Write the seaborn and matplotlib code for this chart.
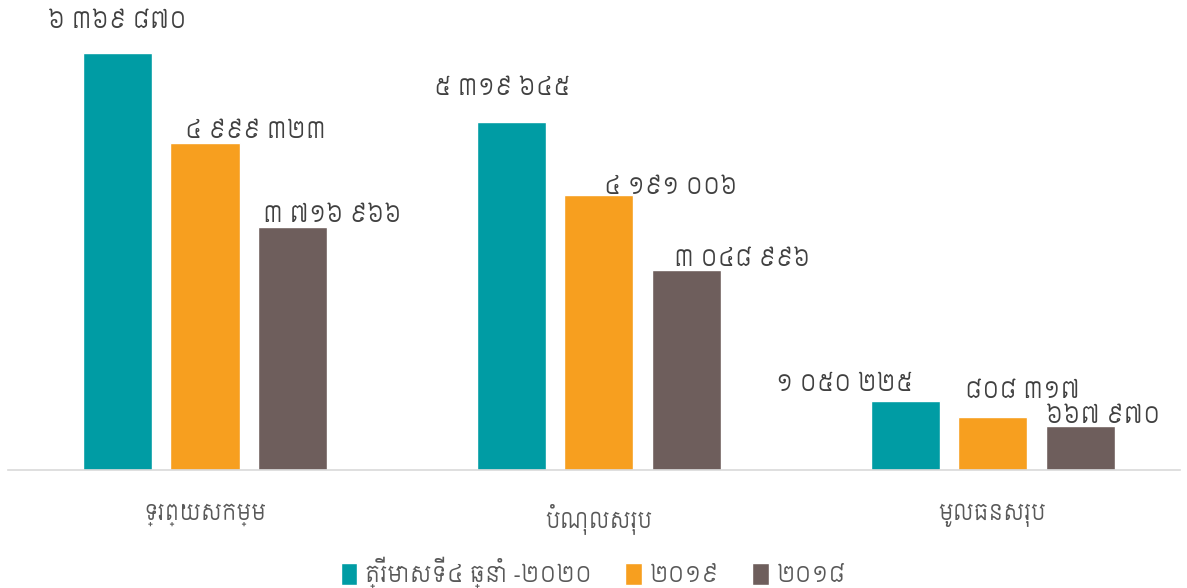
import matplotlib
matplotlib.use("Agg")
import matplotlib.pyplot as plt
import seaborn as sns
import pandas as pd

categories = ["ទ្រព្យសកម្ម", "បំណុលសរុប", "មូលធនសរុប"]
series_names = ["ត្រីមាសទី៤ ឆ្នាំ -២០២០", "២០១៩", "២០១៨"]
values_2020q4 = [6369870, 5319645, 1050225]
values_2019 = [4999323, 4191006, 808317]
values_2018 = [3716966, 3048996, 667970]

colors = ["#009CA4", "#F79F1F", "#6E5E5C"]
# label offsets (pixels) from top-centre of each bar, per series then per category
label_offsets = [
    [(0, 31), (-9, 33), (-61, 16)],
    [(51, 11), (72, 7), (30, 25)],
    [(40, 11), (56, 10), (23, 9)],
]

KH = str.maketrans("0123456789", "០១២៣៤៥៦៧៨៩")


def khmer_number(v):
    s = f"{v:,}".replace(",", " ")
    return s.translate(KH)


rows = []
for name, vals in zip(series_names, [values_2020q4, values_2019, values_2018]):
    for c, v in zip(categories, vals):
        rows.append({"cat": c, "series": name, "value": v})
df = pd.DataFrame(rows)

sns.set_theme(style="white")
plt.rcParams["font.family"] = ["Siemreap", "Noto Sans Khmer", "DejaVu Sans"]

fig = plt.figure(figsize=(11.87, 5.88), dpi=100)
ax = fig.add_axes([8 / 1187, 118 / 588, 1172 / 1187, 470 / 588])

sns.barplot(data=df, x="cat", y="value", hue="series", order=categories,
            hue_order=series_names, palette=colors, width=0.666, gap=0.21,
            saturation=1, ax=ax, legend=True)

ax.set_ylim(0, 7.175e6)
ax.set_xlim(-0.5, 2.475)
ax.set_xlabel("")
ax.set_ylabel("")
ax.set_yticks([])
for s in ["top", "left", "right"]:
    ax.spines[s].set_visible(False)
ax.spines["bottom"].set_color("#D9D9D9")
ax.spines["bottom"].set_linewidth(1.2)
ax.tick_params(axis="x", length=0, pad=24, labelsize=15.5, labelcolor="#595959")

for i, cont in enumerate(ax.containers):
    for j, bar in enumerate(cont):
        x = bar.get_x() + bar.get_width() / 2
        y = bar.get_height()
        dx, dy = label_offsets[i][j]
        ax.annotate(khmer_number(int(round(y))), (x, y),
                    xytext=(dx * 0.72, dy * 0.72), textcoords="offset points",
                    ha="center", va="center", fontsize=16.4, color="#404040",
                    annotation_clip=False)

leg = ax.legend(loc="center", bbox_to_anchor=(0.5, 16 / 588), bbox_transform=fig.transFigure,
                ncol=3, frameon=False, fontsize=16, handlelength=0.75, handleheight=1.2,
                handletextpad=0.35, columnspacing=1.5)
for t in leg.get_texts():
    t.set_color("#595959")

fig.savefig("out.png", dpi=100)
